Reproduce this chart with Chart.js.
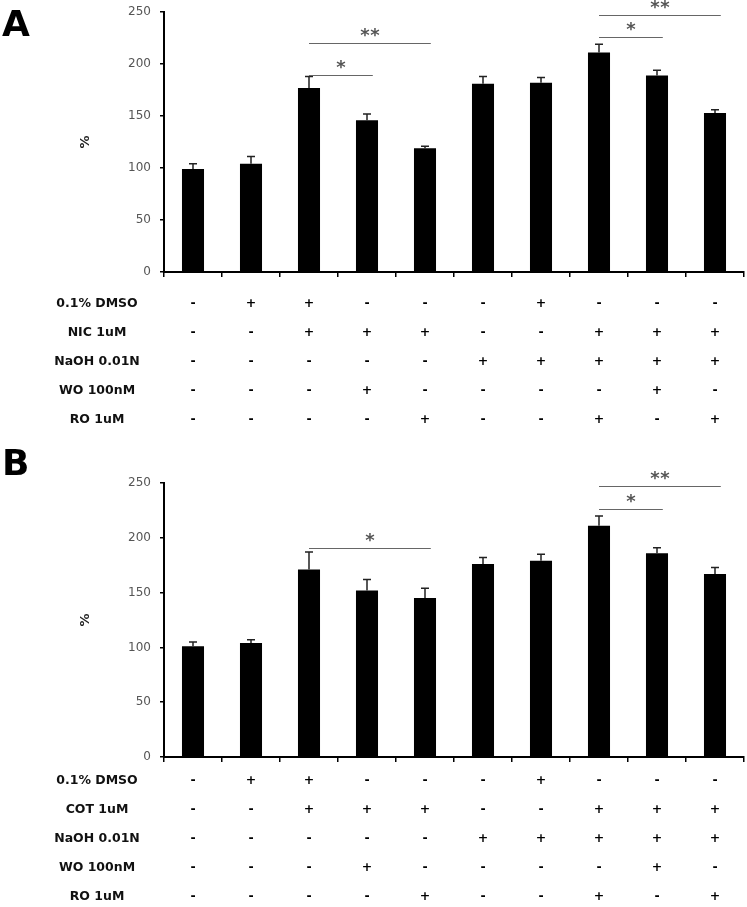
<!DOCTYPE html>
<html>
<head>
<meta charset="utf-8">
<script src="https://cdn.jsdelivr.net/npm/chart.js@4.4.0/dist/chart.umd.min.js"></script>
<style>
  html, body { margin: 0; padding: 0; background: #fff; }
  #wrap { position: relative; width: 747px; height: 907px; }
  .panel { position: absolute; left: 0; }
  #panelA { top: 0; }
  #panelB { top: 440px; }
</style>
</head>
<body>
<div id="wrap">
  <div class="panel" id="panelA"><canvas id="chartA" width="747" height="440"></canvas></div>
  <div class="panel" id="panelB"><canvas id="chartB" width="747" height="467"></canvas></div>
</div>
<script>
  // treatment table (same for both panels)
  const rowNamesA = ['0.1% DMSO', 'NIC 1uM', 'NaOH 0.01N', 'WO 100nM', 'RO 1uM'];
  const rowNamesB = ['0.1% DMSO', 'COT 1uM', 'NaOH 0.01N', 'WO 100nM', 'RO 1uM'];
  const dmso = ['-', '+', '+', '-', '-', '-', '+', '-', '-', '-'];
  const drug = ['-', '-', '+', '+', '+', '-', '-', '+', '+', '+'];
  const naoh = ['-', '-', '-', '-', '-', '+', '+', '+', '+', '+'];
  const wo   = ['-', '-', '-', '+', '-', '-', '-', '-', '+', '-'];
  const ro   = ['-', '-', '-', '-', '+', '-', '-', '+', '-', '+'];

  // bar heights (%) and error bars
  const valuesA = [99, 104, 177, 146, 119, 181, 182, 211, 189, 153];
  const errorsA = [5, 7, 11, 6, 2, 7, 5, 8, 5, 3];
  const valuesB = [101, 104, 171, 152, 145, 176, 179, 211, 186, 167];
  const errorsB = [4, 3, 16, 10, 9, 6, 6, 9, 5, 6];

  const yTicks = [0, 50, 100, 150, 200, 250];

  // significance brackets: from bar, to bar, level (%), mark
  const sigA = [[2, 3, 189, '*'], [2, 4, 220, '**'], [7, 8, 226, '*'], [7, 9, 247, '**']];
  const sigB = [[2, 4, 191, '*'], [7, 8, 226, '*'], [7, 9, 247, '**']];

  const categories = dmso.map((_, i) => [dmso[i], drug[i], naoh[i], wo[i], ro[i]]);

  const FONT = '"DejaVu Sans", Verdana, sans-serif';

  // error bars, brackets, row names, % title, panel letter
  const panelDecor = {
    id: 'panelDecor',
    afterDatasetsDraw(chart, args, opts) {
      const ctx = chart.ctx;
      const xs = chart.scales.x;
      const ys = chart.scales.y;
      const data = chart.data.datasets[0].data;
      const meta = chart.getDatasetMeta(0);

      ctx.save();
      ctx.strokeStyle = '#222';
      ctx.lineWidth = 1.5;
      meta.data.forEach((bar, i) => {
        const top = ys.getPixelForValue(data[i] + opts.errors[i]);
        ctx.beginPath();
        ctx.moveTo(bar.x, bar.y);
        ctx.lineTo(bar.x, top);
        ctx.moveTo(bar.x - 4, top);
        ctx.lineTo(bar.x + 4, top);
        ctx.stroke();
      });

      ctx.strokeStyle = '#666';
      ctx.lineWidth = 1;
      ctx.fillStyle = '#555';
      ctx.font = 'bold 18px ' + FONT;
      ctx.textAlign = 'center';
      ctx.textBaseline = 'alphabetic';
      opts.sig.forEach(([a, b, level, mark]) => {
        const x1 = xs.getPixelForValue(a);
        const x2 = xs.getPixelForValue(b + 0.1);
        const ly = Math.round(ys.getPixelForValue(level)) + 0.5;
        ctx.beginPath();
        ctx.moveTo(x1, ly);
        ctx.lineTo(x2, ly);
        ctx.stroke();
        // stars drawn one by one, 10px apart
        const mid = (x1 + x2) / 2;
        const n = mark.length;
        for (let k = 0; k < n; k++) {
          ctx.fillText('*', mid + (k - (n - 1) / 2) * 10, ly - 2.5);
        }
      });

      // row names beside the +/- rows
      const t = xs.options;
      const y0 = xs.top + t.grid.tickLength + t.ticks.padding + 14.5;
      ctx.fillStyle = '#111';
      ctx.font = 'bold 12.5px ' + FONT;
      ctx.textBaseline = 'middle';
      opts.rows.forEach((name, i) => {
        ctx.fillText(name, 97, y0 + i * 29);
      });

      // y title
      ctx.save();
      ctx.translate(86, (chart.chartArea.top + chart.chartArea.bottom) / 2);
      ctx.rotate(-Math.PI / 2);
      ctx.font = 'bold 13px ' + FONT;
      ctx.fillStyle = '#222';
      ctx.fillText('%', 0, 0);
      ctx.restore();

      // panel letter
      ctx.fillStyle = '#000';
      ctx.textAlign = 'left';
      ctx.textBaseline = 'alphabetic';
      ctx.font = 'bold 36px ' + FONT;
      ctx.fillText(opts.letter, 2, opts.letterY);
      ctx.restore();
    }
  };

  function makeChart(id, values, errors, sig, rows, letter, letterY, padTop, xHeight, tickPad) {
    return new Chart(document.getElementById(id), {
      type: 'bar',
      data: {
        labels: categories,
        datasets: [{
          data: values,
          backgroundColor: '#000',
          borderWidth: 0,
          barPercentage: 0.38,
          categoryPercentage: 1
        }]
      },
      options: {
        responsive: false,
        animation: false,
        layout: { padding: { top: padTop, right: 3, left: 0, bottom: 0 } },
        plugins: {
          legend: { display: false },
          tooltip: { enabled: false },
          panelDecor: { errors: errors, sig: sig, rows: rows, letter: letter, letterY: letterY }
        },
        scales: {
          x: {
            offset: true,
            grid: { offset: true, drawOnChartArea: false, tickLength: 5, color: '#000', lineWidth: 1.5 },
            border: { color: '#000', width: 2 },
            ticks: {
              autoSkip: false, maxRotation: 0, minRotation: 0, color: '#000', padding: tickPad,
              font: { family: FONT, size: 12.5, weight: 'bold', lineHeight: '29px' }
            },
            afterFit(scale) {
              scale.height = xHeight;
              scale.paddingLeft = 0;
              scale.paddingRight = 0;
            }
          },
          y: {
            min: 0,
            max: 250,
            grid: { drawOnChartArea: false, tickLength: 4, color: '#000', lineWidth: 1.5 },
            border: { color: '#000', width: 2 },
            ticks: { color: '#555', padding: 9, font: { family: FONT, size: 12 } },
            afterBuildTicks(scale) { scale.ticks = yTicks.map(v => ({ value: v })); },
            afterFit(scale) {
              scale.width = 164;
              scale.paddingTop = 0;
              scale.paddingBottom = 0;
            }
          }
        }
      },
      plugins: [panelDecor]
    });
  }

  makeChart('chartA', valuesA, errorsA, sigA, rowNamesA, 'A', 36, 12, 168, 12);
  makeChart('chartB', valuesB, errorsB, sigB, rowNamesB, 'B', 35, 43, 150, 4);
</script>
</body>
</html>
